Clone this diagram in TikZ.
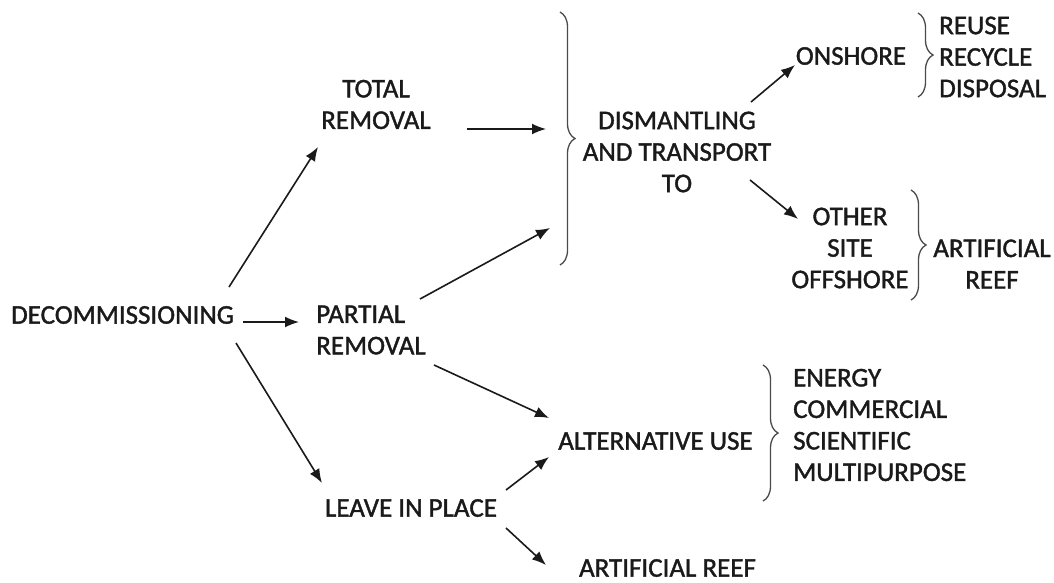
\documentclass[tikz,border=0pt]{standalone}
\usepackage{fontspec}
\setmainfont{Carlito}
\newfontfamily\lblfont[FakeBold=1.4]{Carlito}
\usetikzlibrary{arrows.meta,decorations.pathreplacing}
\definecolor{ink}{HTML}{1A1A1A}
\definecolor{brcgray}{HTML}{4A4A4A}
\tikzset{
  lbl/.style={inner sep=0pt,text=ink,font=\lblfont\fontsize{27}{31.5}\selectfont},
  arr/.style={draw=ink,line width=1.6pt,-{Latex[length=14pt,width=11pt]}},
  brc/.style={draw=brcgray,line width=1.3pt,decorate,decoration={brace,amplitude=15pt}}
}
\begin{document}
\begin{tikzpicture}[x=1pt,y=-1pt]
\useasboundingbox (0,0) rectangle (1054,583);
% nodes
\node[lbl] (decom)   at (122.5,315) {DECOMMISSIONING};
\node[lbl,align=center] (total)   at (376,104.5) {TOTAL\\REMOVAL};
\node[lbl,align=left]   (partial) at (371,330)   {PARTIAL\\REMOVAL};
\node[lbl] (leave)   at (411,508)   {LEAVE IN PLACE};
\node[lbl,align=center] (dism)    at (677,152)   {DISMANTLING\\AND TRANSPORT\\TO};
\node[lbl] (onshore) at (851,56)    {ONSHORE};
\node[lbl,align=left,anchor=west] (rec) at (939,57) {REUSE\\RECYCLE\\DISPOSAL};
\node[lbl,align=center] (other)   at (850,248)   {OTHER\\SITE\\OFFSHORE};
\node[lbl,align=center] (reefA)   at (992,264)   {ARTIFICIAL\\REEF};
\node[lbl] (alt)     at (655.5,441) {ALTERNATIVE USE};
\node[lbl,align=left,anchor=west] (uses) at (793,425) {ENERGY\\COMMERCIAL\\SCIENTIFIC\\MULTIPURPOSE};
\node[lbl] (reefB)   at (667.5,568) {ARTIFICIAL REEF};
% brace ends
\coordinate (bigtop) at (560,12);
\coordinate (bigbot) at (560,265);
\coordinate (inA)    at (546,129);
\coordinate (inB)    at (550,228);
% braces
\draw[brc] (bigtop) -- (bigbot);
\draw[brc] (918,13) -- (918,97);
\draw[brc] (911,190) -- (911,300);
\draw[brc] (763,365) -- (763,501);
% arrows
\draw[arr] ([shift={(106.5,-28)}]decom.center) -- ([shift={(-58,42.5)}]total.center);
\draw[arr] ([shift={(120.5,7)}]decom.center)   -- ([shift={(-72,-8)}]partial.center);
\draw[arr] ([shift={(113.5,28)}]decom.center)  -- ([shift={(-89,-25)}]leave.center);
\draw[arr] ([shift={(91,24.5)}]total.center)   -- (inA);
\draw[arr] ([shift={(49,-31)}]partial.center)  -- (inB);
\draw[arr] ([shift={(63,35)}]partial.center)   -- ([shift={(-106.5,-23)}]alt.center);
\draw[arr] ([shift={(95,-18)}]leave.center)    -- ([shift={(-106.5,16)}]alt.center);
\draw[arr] ([shift={(95,20)}]leave.center)     -- ([shift={(-121.5,-3)}]reefB.center);
\draw[arr] ([shift={(74,-50)}]dism.center)     -- ([shift={(-56,9)}]onshore.center);
\draw[arr] ([shift={(73,28)}]dism.center)      -- ([shift={(-52,-29)}]other.center);
\end{tikzpicture}
\end{document}
